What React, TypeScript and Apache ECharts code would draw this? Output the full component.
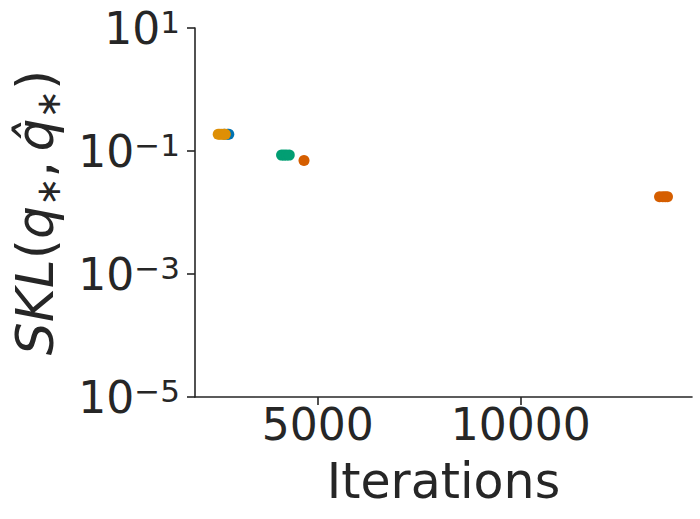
import React, { useEffect, useRef } from "react";
import * as echarts from "echarts";

const blueX = [2700, 2780, 2810];
const blueY = [0.187, 0.187, 0.187];
const orangeX = [2550, 2590, 2640, 2690, 2725];
const orangeY = [0.187, 0.187, 0.187, 0.187, 0.187];
const greenX = [4110, 4170, 4230, 4300];
const greenY = [0.0857, 0.0857, 0.0857, 0.0857];
const redX = [4663, 13420, 13500, 13560, 13615];
const redY = [0.0703, 0.018, 0.018, 0.018, 0.018];

const xTicks = [5000, 10000];
const yTicks = [1e-5, 1e-3, 1e-1, 10];

const colors = ["#0173b2", "#de8f05", "#029e73", "#d55e00"];
const TXT = "#262626";
const FONT = "DejaVu Sans";

const zip = (xs: number[], ys: number[]) => xs.map((x, i) => [x, ys[i]]);

export default function App() {
  const ref = useRef<HTMLDivElement>(null);
  useEffect(() => {
    const chart = echarts.init(ref.current!, null, { renderer: "svg" });
    const series = [
      [blueX, blueY],
      [orangeX, orangeY],
      [greenX, greenY],
      [redX, redY],
    ].map(([xs, ys], i) => ({
      type: "scatter",
      data: zip(xs, ys),
      symbolSize: 11,
      itemStyle: { color: colors[i], opacity: 1 },
      z: 2 + i,
    }));
    chart.setOption({
      animation: false,
      backgroundColor: "#ffffff",
      textStyle: { fontFamily: FONT, color: TXT },
      grid: { left: 195, top: 28, right: 8, bottom: 122, containLabel: false },
      xAxis: {
        type: "value",
        min: 1978,
        max: 14219,
        name: "Iterations",
        nameLocation: "middle",
        nameGap: 60,
        nameTextStyle: { fontSize: 49, color: TXT, fontFamily: FONT },
        axisLine: { lineStyle: { color: TXT, width: 1.6 } },
        axisTick: { show: true, length: 8, lineStyle: { color: TXT, width: 1.6 }, customValues: xTicks },
        axisLabel: {
          fontSize: 44,
          color: TXT,
          margin: 5,
          fontFamily: FONT,
          customValues: xTicks,
          formatter: (v: number) => String(v),
        },
        splitLine: { show: false },
      },
      yAxis: {
        type: "log",
        logBase: 10,
        min: 1e-5,
        max: 10,
        name: "{i|SKL}{n|(}{i|q}{s|∗}{n|,}{sp| }{i|q\u0302}{s|∗}{n|)}",
        nameLocation: "middle",
        nameRotate: 90,
        nameGap: 130,
        nameTextStyle: {
          color: TXT,
          fontFamily: FONT,
          rich: {
            i: { fontSize: 52, fontStyle: "italic", fontFamily: FONT, color: TXT, lineHeight: 60 },
            n: { fontSize: 52, fontFamily: FONT, color: TXT, lineHeight: 60 },
            sp: { fontSize: 30, fontFamily: FONT, color: TXT, lineHeight: 60 },
            s: { fontSize: 34, fontFamily: FONT, color: TXT, lineHeight: 34, verticalAlign: "bottom" },
          },
        },
        axisLine: { show: true, lineStyle: { color: TXT, width: 1.6 } },
        axisTick: { show: true, length: 8, lineStyle: { color: TXT, width: 1.6 }, customValues: yTicks },
        axisLabel: {
          margin: 15,
          customValues: yTicks,
          formatter: (v: number) => {
            const e = Math.round(Math.log10(v));
            return `{b|10}{s|${e < 0 ? "\u2212" : ""}${Math.abs(e)}}`;
          },
          rich: {
            b: { fontSize: 44, fontFamily: FONT, color: TXT, lineHeight: 44 },
            s: { fontSize: 31, fontFamily: FONT, color: TXT, lineHeight: 31, verticalAlign: "top" },
          },
        },
        splitLine: { show: false },
      },
      series,
    });
    return () => chart.dispose();
  }, []);
  return (
    <div
      ref={ref}
      style={{ position: "absolute", left: 0, top: 0, width: 700, height: 519 }}
    />
  );
}
